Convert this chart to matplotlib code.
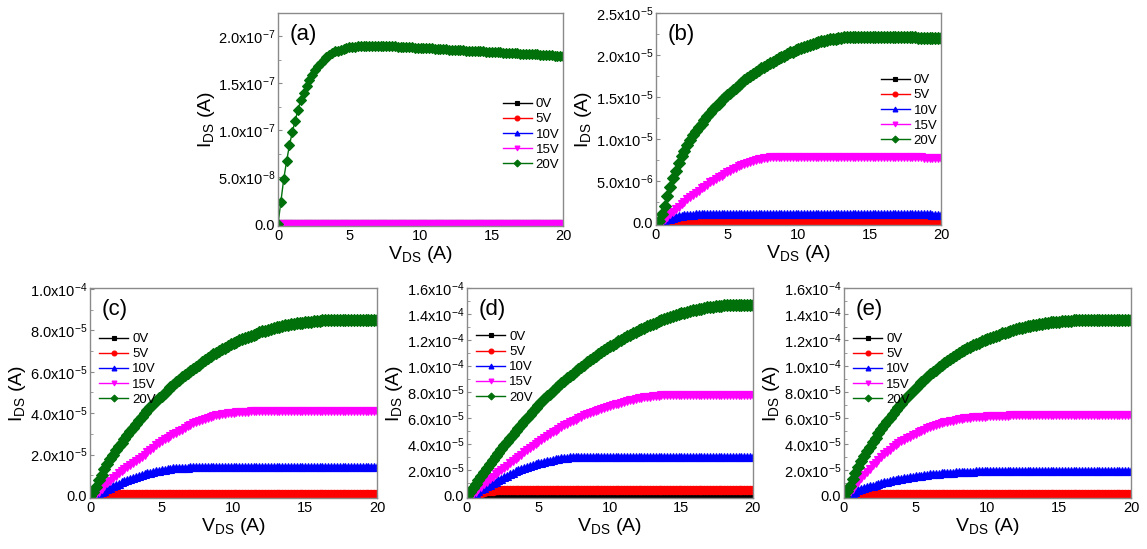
import numpy as np
import matplotlib
matplotlib.use('Agg')
import matplotlib.pyplot as plt
from matplotlib.ticker import FuncFormatter, MultipleLocator

#===============================================================================
# drain sweep, 0 .. 20 V in 0.2 V steps
vds = np.linspace(0, 20, 101)
gate_labels = ['0V', '5V', '10V', '15V', '20V']

off_state = [0.0] * 101   # curves lying on zero

# (a)  values in 1e-7 A
a_20v = [0.0,
    0.24, 0.48, 0.67, 0.84, 0.98, 1.10, 1.22, 1.32, 1.40, 1.47,
    1.54, 1.59, 1.64, 1.68, 1.72, 1.75, 1.78, 1.80, 1.82, 1.84,
    1.85, 1.86, 1.87, 1.88, 1.885, 1.89, 1.89, 1.895, 1.895, 1.90,
    1.90, 1.90, 1.90, 1.90, 1.90, 1.90, 1.90, 1.90, 1.898, 1.896,
    1.894, 1.892, 1.890, 1.888, 1.886, 1.885, 1.884, 1.882, 1.881, 1.880,
    1.878, 1.876, 1.874, 1.872, 1.870, 1.868, 1.866, 1.864, 1.862, 1.860,
    1.858, 1.857, 1.855, 1.853, 1.852, 1.850, 1.848, 1.847, 1.845, 1.843,
    1.842, 1.840, 1.838, 1.837, 1.835, 1.833, 1.832, 1.830, 1.828, 1.827,
    1.825, 1.823, 1.822, 1.820, 1.818, 1.817, 1.815, 1.813, 1.812, 1.810,
    1.808, 1.806, 1.804, 1.802, 1.800, 1.798, 1.796, 1.794, 1.792, 1.790]

# (b)  values in 1e-5 A
b_10v = [0.0,
    0.0, 0.01, 0.025, 0.04, 0.05, 0.06, 0.068, 0.075, 0.081, 0.086,
    0.09, 0.093, 0.096, 0.098, 0.10, 0.10, 0.10, 0.10, 0.10, 0.10,
    0.10, 0.10, 0.10, 0.10, 0.10, 0.10, 0.10, 0.10, 0.10, 0.10,
    0.10, 0.10, 0.10, 0.10, 0.10, 0.10, 0.10, 0.10, 0.10, 0.10,
    0.10, 0.10, 0.10, 0.10, 0.10, 0.10, 0.10, 0.10, 0.10, 0.10,
    0.10, 0.10, 0.10, 0.10, 0.10, 0.10, 0.10, 0.10, 0.10, 0.10,
    0.10, 0.10, 0.10, 0.10, 0.10, 0.10, 0.10, 0.10, 0.10, 0.10,
    0.10, 0.10, 0.10, 0.10, 0.10, 0.10, 0.10, 0.10, 0.10, 0.10,
    0.10, 0.10, 0.10, 0.10, 0.10, 0.10, 0.10, 0.10, 0.10, 0.10,
    0.10, 0.10, 0.10, 0.10, 0.10, 0.10, 0.095, 0.09, 0.09, 0.09]
b_15v = [0.0,
    0.0, 0.01, 0.04, 0.07, 0.10, 0.13, 0.16, 0.19, 0.22, 0.25,
    0.28, 0.31, 0.33, 0.36, 0.38, 0.41, 0.43, 0.45, 0.48, 0.50,
    0.52, 0.54, 0.56, 0.58, 0.60, 0.62, 0.64, 0.655, 0.67, 0.685,
    0.70, 0.71, 0.725, 0.735, 0.745, 0.755, 0.76, 0.77, 0.775, 0.78,
    0.78, 0.78, 0.78, 0.78, 0.78, 0.78, 0.78, 0.78, 0.78, 0.78,
    0.78, 0.78, 0.78, 0.78, 0.78, 0.78, 0.78, 0.78, 0.78, 0.78,
    0.78, 0.78, 0.78, 0.78, 0.78, 0.78, 0.78, 0.78, 0.78, 0.78,
    0.78, 0.78, 0.78, 0.78, 0.78, 0.78, 0.78, 0.78, 0.78, 0.78,
    0.78, 0.78, 0.78, 0.78, 0.78, 0.78, 0.78, 0.78, 0.78, 0.78,
    0.78, 0.78, 0.78, 0.775, 0.775, 0.775, 0.77, 0.77, 0.77, 0.77]
b_20v = [0.0,
    0.02, 0.10, 0.20, 0.32, 0.43, 0.53, 0.62, 0.71, 0.79, 0.86,
    0.93, 0.99, 1.04, 1.09, 1.14, 1.18, 1.23, 1.27, 1.31, 1.35,
    1.39, 1.42, 1.46, 1.49, 1.52, 1.55, 1.58, 1.61, 1.64, 1.67,
    1.70, 1.72, 1.75, 1.77, 1.80, 1.82, 1.84, 1.86, 1.88, 1.90,
    1.92, 1.94, 1.96, 1.98, 1.99, 2.01, 2.03, 2.04, 2.06, 2.07,
    2.08, 2.10, 2.11, 2.12, 2.13, 2.14, 2.15, 2.16, 2.17, 2.18,
    2.185, 2.19, 2.195, 2.20, 2.205, 2.21, 2.21, 2.21, 2.21, 2.21,
    2.21, 2.21, 2.21, 2.21, 2.21, 2.21, 2.21, 2.21, 2.21, 2.21,
    2.21, 2.21, 2.21, 2.21, 2.21, 2.21, 2.21, 2.21, 2.21, 2.21,
    2.21, 2.205, 2.205, 2.205, 2.20, 2.20, 2.20, 2.20, 2.20, 2.20]

# (c)  values in 1e-5 A
c_5v = [0.0,
    0.01, 0.02, 0.04, 0.05, 0.06, 0.07, 0.07, 0.07, 0.07, 0.07,
    0.07, 0.07, 0.07, 0.07, 0.07, 0.07, 0.07, 0.07, 0.07, 0.07,
    0.07, 0.07, 0.07, 0.07, 0.07, 0.07, 0.07, 0.07, 0.07, 0.07,
    0.07, 0.07, 0.07, 0.07, 0.07, 0.07, 0.07, 0.07, 0.07, 0.07,
    0.07, 0.07, 0.07, 0.07, 0.07, 0.07, 0.07, 0.07, 0.07, 0.07,
    0.07, 0.07, 0.07, 0.07, 0.07, 0.07, 0.07, 0.07, 0.07, 0.07,
    0.07, 0.07, 0.07, 0.07, 0.07, 0.07, 0.07, 0.07, 0.07, 0.07,
    0.07, 0.07, 0.07, 0.07, 0.07, 0.07, 0.07, 0.07, 0.07, 0.07,
    0.07, 0.07, 0.07, 0.07, 0.07, 0.07, 0.07, 0.07, 0.07, 0.07,
    0.07, 0.07, 0.07, 0.07, 0.07, 0.07, 0.07, 0.07, 0.07, 0.07]
c_10v = [0.0,
    0.01, 0.04, 0.08, 0.17, 0.25, 0.32, 0.39, 0.46, 0.53, 0.60,
    0.66, 0.72, 0.78, 0.83, 0.88, 0.93, 0.98, 1.02, 1.06, 1.10,
    1.13, 1.16, 1.19, 1.22, 1.25, 1.27, 1.29, 1.31, 1.33, 1.34,
    1.35, 1.36, 1.37, 1.37, 1.38, 1.38, 1.38, 1.38, 1.38, 1.38,
    1.38, 1.38, 1.38, 1.38, 1.38, 1.38, 1.38, 1.38, 1.38, 1.38,
    1.38, 1.38, 1.38, 1.38, 1.38, 1.38, 1.38, 1.38, 1.38, 1.38,
    1.38, 1.38, 1.38, 1.38, 1.38, 1.38, 1.38, 1.38, 1.38, 1.38,
    1.38, 1.38, 1.38, 1.38, 1.38, 1.38, 1.38, 1.38, 1.38, 1.38,
    1.38, 1.38, 1.38, 1.38, 1.38, 1.38, 1.38, 1.38, 1.38, 1.38,
    1.38, 1.38, 1.38, 1.38, 1.38, 1.38, 1.38, 1.38, 1.38, 1.38]
c_15v = [0.0,
    0.03, 0.10, 0.20, 0.34, 0.50, 0.62, 0.74, 0.86, 0.98, 1.10,
    1.20, 1.30, 1.40, 1.50, 1.60, 1.70, 1.80, 1.90, 2.00, 2.10,
    2.22, 2.34, 2.46, 2.56, 2.65, 2.73, 2.81, 2.89, 2.97, 3.05,
    3.13, 3.21, 3.29, 3.37, 3.45, 3.51, 3.57, 3.62, 3.67, 3.72,
    3.76, 3.81, 3.85, 3.89, 3.92, 3.94, 3.97, 3.99, 4.01, 4.03,
    4.04, 4.05, 4.06, 4.07, 4.08, 4.09, 4.10, 4.10, 4.10, 4.10,
    4.10, 4.10, 4.10, 4.10, 4.10, 4.10, 4.10, 4.10, 4.10, 4.10,
    4.10, 4.10, 4.10, 4.10, 4.10, 4.10, 4.10, 4.10, 4.10, 4.10,
    4.10, 4.10, 4.10, 4.10, 4.10, 4.10, 4.10, 4.10, 4.10, 4.10,
    4.10, 4.10, 4.10, 4.10, 4.10, 4.10, 4.10, 4.10, 4.10, 4.10]
c_20v = [0.0,
    0.20, 0.45, 0.75, 1.00, 1.30, 1.55, 1.80, 2.00, 2.20, 2.40,
    2.58, 2.76, 2.94, 3.12, 3.30, 3.48, 3.66, 3.83, 3.99, 4.15,
    4.29, 4.43, 4.57, 4.71, 4.85, 4.99, 5.13, 5.26, 5.38, 5.50,
    5.62, 5.74, 5.86, 5.96, 6.05, 6.15, 6.25, 6.35, 6.45, 6.55,
    6.65, 6.75, 6.84, 6.92, 7.00, 7.08, 7.16, 7.24, 7.32, 7.40,
    7.46, 7.52, 7.58, 7.64, 7.70, 7.75, 7.80, 7.85, 7.90, 7.95,
    7.99, 8.03, 8.07, 8.11, 8.15, 8.18, 8.21, 8.24, 8.27, 8.30,
    8.32, 8.34, 8.36, 8.38, 8.40, 8.41, 8.43, 8.44, 8.46, 8.47,
    8.48, 8.48, 8.49, 8.49, 8.50, 8.50, 8.50, 8.50, 8.50, 8.50,
    8.50, 8.50, 8.50, 8.50, 8.50, 8.50, 8.50, 8.50, 8.50, 8.50]

# (d)  values in 1e-5 A
d_5v = [0.0,
    0.0, 0.05, 0.12, 0.20, 0.26, 0.31, 0.35, 0.38, 0.40, 0.42,
    0.43, 0.44, 0.45, 0.45, 0.45, 0.45, 0.45, 0.45, 0.45, 0.45,
    0.45, 0.45, 0.45, 0.45, 0.45, 0.45, 0.45, 0.45, 0.45, 0.45,
    0.45, 0.45, 0.45, 0.45, 0.45, 0.45, 0.45, 0.45, 0.45, 0.45,
    0.45, 0.45, 0.45, 0.45, 0.45, 0.45, 0.45, 0.45, 0.45, 0.45,
    0.45, 0.45, 0.45, 0.45, 0.45, 0.45, 0.45, 0.45, 0.45, 0.45,
    0.45, 0.45, 0.45, 0.45, 0.45, 0.45, 0.45, 0.45, 0.45, 0.45,
    0.45, 0.45, 0.45, 0.45, 0.45, 0.45, 0.45, 0.45, 0.45, 0.45,
    0.45, 0.45, 0.45, 0.45, 0.45, 0.45, 0.45, 0.45, 0.45, 0.45,
    0.45, 0.45, 0.45, 0.45, 0.45, 0.45, 0.45, 0.45, 0.45, 0.45]
d_10v = [0.0,
    0.02, 0.10, 0.22, 0.36, 0.50, 0.62, 0.74, 0.86, 0.98, 1.10,
    1.22, 1.34, 1.46, 1.57, 1.68, 1.78, 1.88, 1.97, 2.06, 2.14,
    2.22, 2.30, 2.37, 2.44, 2.50, 2.56, 2.62, 2.67, 2.72, 2.77,
    2.81, 2.85, 2.88, 2.91, 2.94, 2.96, 2.98, 2.99, 3.00, 3.00,
    3.00, 3.00, 3.00, 3.00, 3.00, 3.00, 3.00, 3.00, 3.00, 3.00,
    3.00, 3.00, 3.00, 3.00, 3.00, 3.00, 3.00, 3.00, 3.00, 3.00,
    3.00, 3.00, 3.00, 3.00, 3.00, 3.00, 3.00, 3.00, 3.00, 3.00,
    3.00, 3.00, 3.00, 3.00, 3.00, 3.00, 3.00, 3.00, 3.00, 3.00,
    3.00, 3.00, 3.00, 3.00, 3.00, 3.00, 3.00, 3.00, 3.00, 3.00,
    3.00, 3.00, 3.00, 3.00, 3.00, 3.00, 3.00, 3.00, 3.00, 3.00]
d_15v = [0.0,
    0.05, 0.15, 0.30, 0.50, 0.70, 0.89, 1.08, 1.27, 1.46, 1.65,
    1.83, 2.00, 2.16, 2.33, 2.50, 2.67, 2.84, 3.01, 3.18, 3.35,
    3.51, 3.67, 3.84, 4.00, 4.16, 4.31, 4.46, 4.60, 4.75, 4.90,
    5.03, 5.16, 5.29, 5.42, 5.55, 5.66, 5.77, 5.88, 5.99, 6.10,
    6.19, 6.28, 6.37, 6.46, 6.55, 6.62, 6.69, 6.76, 6.83, 6.90,
    6.97, 7.04, 7.11, 7.18, 7.25, 7.30, 7.35, 7.40, 7.45, 7.50,
    7.54, 7.58, 7.61, 7.65, 7.68, 7.70, 7.72, 7.73, 7.74, 7.75,
    7.75, 7.75, 7.75, 7.75, 7.75, 7.75, 7.75, 7.75, 7.75, 7.75,
    7.75, 7.75, 7.75, 7.75, 7.75, 7.75, 7.75, 7.75, 7.75, 7.75,
    7.75, 7.75, 7.75, 7.75, 7.75, 7.75, 7.75, 7.75, 7.75, 7.75]
d_20v = [0.0,
    0.30, 0.62, 0.93, 1.24, 1.55, 1.85, 2.15, 2.45, 2.75, 3.05,
    3.33, 3.61, 3.89, 4.17, 4.45, 4.71, 4.97, 5.23, 5.49, 5.75,
    6.00, 6.25, 6.50, 6.75, 7.00, 7.22, 7.44, 7.66, 7.88, 8.10,
    8.29, 8.48, 8.67, 8.86, 9.05, 9.23, 9.41, 9.59, 9.77, 9.95,
    10.11, 10.27, 10.43, 10.59, 10.75, 10.90, 11.05, 11.20, 11.35, 11.50,
    11.63, 11.76, 11.89, 12.02, 12.15, 12.27, 12.38, 12.50, 12.61, 12.73,
    12.83, 12.94, 13.04, 13.15, 13.25, 13.34, 13.43, 13.51, 13.60, 13.69,
    13.76, 13.83, 13.91, 13.98, 14.05, 14.11, 14.16, 14.22, 14.27, 14.33,
    14.37, 14.41, 14.46, 14.50, 14.54, 14.56, 14.59, 14.61, 14.64, 14.66,
    14.67, 14.68, 14.69, 14.70, 14.70, 14.70, 14.70, 14.70, 14.70, 14.70]

# (e)  values in 1e-5 A
e_5v = [0.0,
    0.0, 0.02, 0.05, 0.08, 0.10, 0.11, 0.12, 0.12, 0.12, 0.12,
    0.12, 0.12, 0.12, 0.12, 0.12, 0.12, 0.12, 0.12, 0.12, 0.12,
    0.12, 0.12, 0.12, 0.12, 0.12, 0.12, 0.12, 0.12, 0.12, 0.12,
    0.12, 0.12, 0.12, 0.12, 0.12, 0.12, 0.12, 0.12, 0.12, 0.12,
    0.12, 0.12, 0.12, 0.12, 0.12, 0.12, 0.12, 0.12, 0.12, 0.12,
    0.12, 0.12, 0.12, 0.12, 0.12, 0.12, 0.12, 0.12, 0.12, 0.12,
    0.12, 0.12, 0.12, 0.12, 0.12, 0.12, 0.12, 0.12, 0.12, 0.12,
    0.12, 0.12, 0.12, 0.12, 0.12, 0.12, 0.12, 0.12, 0.12, 0.12,
    0.12, 0.12, 0.12, 0.12, 0.12, 0.12, 0.12, 0.12, 0.12, 0.12,
    0.12, 0.12, 0.12, 0.12, 0.12, 0.12, 0.12, 0.12, 0.12, 0.12]
e_10v = [0.0,
    0.03, 0.12, 0.22, 0.32, 0.42, 0.50, 0.58, 0.66, 0.73, 0.80,
    0.87, 0.93, 0.99, 1.05, 1.10, 1.15, 1.20, 1.25, 1.29, 1.33,
    1.37, 1.41, 1.45, 1.48, 1.51, 1.54, 1.57, 1.60, 1.63, 1.65,
    1.67, 1.69, 1.71, 1.73, 1.75, 1.77, 1.78, 1.80, 1.81, 1.82,
    1.83, 1.84, 1.85, 1.86, 1.87, 1.88, 1.88, 1.89, 1.89, 1.90,
    1.90, 1.90, 1.90, 1.90, 1.90, 1.90, 1.90, 1.90, 1.90, 1.90,
    1.90, 1.90, 1.90, 1.90, 1.90, 1.90, 1.90, 1.90, 1.90, 1.90,
    1.90, 1.90, 1.90, 1.90, 1.90, 1.90, 1.90, 1.90, 1.90, 1.90,
    1.90, 1.90, 1.90, 1.90, 1.90, 1.90, 1.90, 1.90, 1.90, 1.90,
    1.90, 1.90, 1.90, 1.90, 1.90, 1.90, 1.90, 1.90, 1.90, 1.90]
e_15v = [0.0,
    0.08, 0.30, 0.55, 0.82, 1.10, 1.36, 1.61, 1.86, 2.11, 2.35,
    2.57, 2.78, 2.99, 3.20, 3.40, 3.57, 3.73, 3.89, 4.05, 4.20,
    4.33, 4.45, 4.57, 4.69, 4.80, 4.90, 5.00, 5.10, 5.20, 5.30,
    5.37, 5.44, 5.51, 5.58, 5.65, 5.70, 5.75, 5.80, 5.85, 5.90,
    5.93, 5.96, 5.99, 6.02, 6.05, 6.06, 6.08, 6.09, 6.11, 6.12,
    6.13, 6.14, 6.15, 6.16, 6.17, 6.18, 6.18, 6.19, 6.19, 6.20,
    6.20, 6.20, 6.20, 6.20, 6.20, 6.20, 6.20, 6.20, 6.20, 6.20,
    6.20, 6.20, 6.20, 6.20, 6.20, 6.20, 6.20, 6.20, 6.20, 6.20,
    6.20, 6.20, 6.20, 6.20, 6.20, 6.20, 6.20, 6.20, 6.20, 6.20,
    6.20, 6.20, 6.20, 6.20, 6.20, 6.20, 6.20, 6.20, 6.20, 6.20]
e_20v = [0.0,
    0.35, 0.80, 1.27, 1.76, 2.25, 2.65, 3.04, 3.42, 3.79, 4.15,
    4.48, 4.81, 5.13, 5.44, 5.75, 6.03, 6.31, 6.58, 6.84, 7.10,
    7.35, 7.60, 7.84, 8.07, 8.30, 8.52, 8.73, 8.94, 9.15, 9.35,
    9.54, 9.72, 9.90, 10.08, 10.25, 10.41, 10.56, 10.71, 10.86, 11.00,
    11.13, 11.25, 11.37, 11.49, 11.60, 11.70, 11.80, 11.90, 12.00, 12.10,
    12.18, 12.26, 12.34, 12.42, 12.50, 12.57, 12.64, 12.71, 12.78, 12.85,
    12.90, 12.95, 13.00, 13.05, 13.10, 13.14, 13.18, 13.22, 13.26, 13.30,
    13.32, 13.35, 13.37, 13.40, 13.42, 13.44, 13.45, 13.47, 13.48, 13.50,
    13.51, 13.52, 13.53, 13.54, 13.55, 13.55, 13.55, 13.55, 13.55, 13.55,
    13.55, 13.55, 13.55, 13.55, 13.55, 13.55, 13.55, 13.55, 13.55, 13.55]

#===============================================================================
plt.rcParams['font.family'] = ['Liberation Sans', 'DejaVu Sans']
plt.rcParams['mathtext.fontset'] = 'custom'
plt.rcParams['mathtext.rm'] = 'Liberation Sans'
plt.rcParams['mathtext.default'] = 'regular'

colors  = ['#000000', '#ff0000', '#0000ff', '#ff00ff', '#00700a']
markers = ['s', 'o', '^', 'v', 'D']
frame_c = '#8a8a8a'

def sci_label(v, pos):
    if abs(v) < 1e-15:
        return '0.0'
    m, e = ('%.1e' % v).split('e')
    return m + 'x10$^{' + str(int(e)) + '}$'

panels = [
    # tag, curves, scale, ylim, ymajor, rect, legend loc, legend anchor
    ('(a)', [off_state, off_state, off_state, off_state, a_20v], 1e-7,
     (-2.1e-9, 2.25e-7), 5e-8, [0.2424, 0.5883, 0.2485, 0.3880],
     'center right', (1.02, 0.43)),
    ('(b)', [off_state, off_state, b_10v, b_15v, b_20v], 1e-5,
     (-0.27e-6, 2.5e-5), 5e-6, [0.5719, 0.5902, 0.2485, 0.3862],
     'center right', (1.02, 0.54)),
    ('(c)', [off_state, c_5v, c_10v, c_15v, c_20v], 1e-5,
     (-1.0e-6, 1.005e-4), 2e-5, [0.0785, 0.0929, 0.2502, 0.3825],
     'upper left', (0.0, 0.83)),
    ('(d)', [off_state, d_5v, d_10v, d_15v, d_20v], 1e-5,
     (-1.6e-6, 1.6e-4), 2e-5, [0.4071, 0.0929, 0.2493, 0.3825],
     'upper left', (0.0, 0.84)),
    ('(e)', [off_state, e_5v, e_10v, e_15v, e_20v], 1e-5,
     (-1.6e-6, 1.6e-4), 2e-5, [0.7358, 0.0929, 0.2502, 0.3825],
     'upper left', (0.0, 0.83)),
]

fig = plt.figure(figsize=(11.47, 5.49), dpi=100)

for tag, curves, scale, ylim, ymajor, rect, loc, anchor in panels:
    ax = fig.add_axes(rect)
    ms = 5.5 if tag == '(a)' else 6
    for i in range(5):
        ax.plot(vds, np.array(curves[i]) * scale, color=colors[i],
                marker=markers[i], markersize=ms, markeredgewidth=0.8,
                linewidth=1.0, label=gate_labels[i])
    ax.set_xlim(0, 20)
    ax.set_ylim(*ylim)
    ax.xaxis.set_major_locator(MultipleLocator(5))
    ax.xaxis.set_minor_locator(MultipleLocator(2.5))
    ax.yaxis.set_major_locator(MultipleLocator(ymajor))
    ax.yaxis.set_minor_locator(MultipleLocator(ymajor / 2))
    ax.yaxis.set_major_formatter(FuncFormatter(sci_label))
    ax.tick_params(which='both', direction='in', colors=frame_c,
                   labelcolor='black', labelsize=10.5, pad=2)
    ax.tick_params(which='major', length=3)
    ax.tick_params(which='minor', length=1.8)
    for sp in ax.spines.values():
        sp.set_color(frame_c)
        sp.set_linewidth(1.0)
    ax.set_xlabel('V$_{DS}$ (A)', fontsize=14, labelpad=1)
    ax.set_ylabel('I$_{DS}$ (A)', fontsize=14, labelpad=1)
    ax.text(0.04, 0.9, tag, transform=ax.transAxes, fontsize=16,
            va='center', ha='left')
    leg = ax.legend(loc=loc, bbox_to_anchor=anchor, frameon=False,
                    fontsize=9.5, handlelength=2.2, handletextpad=0.3,
                    labelspacing=0.22, borderaxespad=0.3)
    for h in leg.legend_handles:
        h.set_markersize(3.5)

plt.savefig('out.png', dpi=100)
